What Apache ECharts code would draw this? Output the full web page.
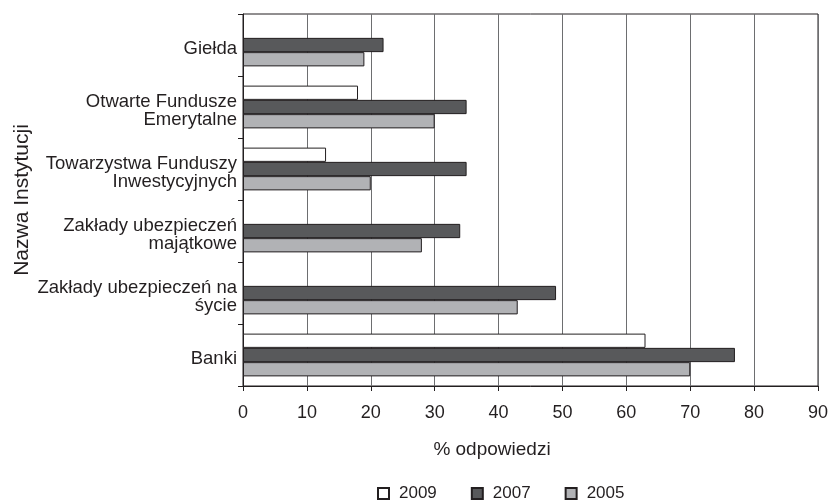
<!DOCTYPE html>
<html>
<head>
<meta charset="utf-8">
<script src="https://cdn.jsdelivr.net/npm/echarts@6/dist/echarts.min.js"></script>
<style>
html,body{margin:0;padding:0;background:#fff;}
#c{width:830px;height:502px;}
</style>
</head>
<body>
<div id="c"></div>
<script>
const categories = [
  'Giełda',
  'Otwarte Fundusze\nEmerytalne',
  'Towarzystwa Funduszy\nInwestycyjnych',
  'Zakłady ubezpieczeń\nmajątkowe',
  'Zakłady ubezpieczeń na\nśycie',
  'Banki'
];
const seriesNames = ['2009', '2007', '2005'];
const values2009 = [null, 18, 13, null, null, 63];
const values2007 = [22, 35, 35, 34, 49, 77];
const values2005 = [19, 30, 20, 28, 43, 70];
const xTicks = [0, 90, 10];
const xTitle = '% odpowiedzi';
const yTitle = 'Nazwa Instytucji';

const FONT = '"Liberation Sans", Arial, sans-serif';
const TXT = '#231f20';
const fills = ['#ffffff', '#58595b', '#b1b2b5'];
const data = [values2009, values2007, values2005];

const chart = echarts.init(document.getElementById('c'), null, {renderer: 'canvas'});
chart.setOption({
  animation: false,
  backgroundColor: '#fff',
  textStyle: {fontFamily: FONT, color: TXT},
  grid: {left: 243, right: 12, top: 14, bottom: 116, show: true, borderColor: TXT, borderWidth: 1,
         containLabel: false, outerBoundsMode: 'none'},
  legend: {
    data: seriesNames,
    left: 377, top: 485, padding: 0,
    itemWidth: 11, itemHeight: 11, itemGap: 34,
    icon: 'rect',
    textStyle: {fontFamily: FONT, fontSize: 17, color: TXT, padding: [0, 0, 0, 5]}
  },
  xAxis: {
    type: 'value',
    min: xTicks[0], max: xTicks[1], interval: xTicks[2],
    axisLine: {show: true, lineStyle: {color: TXT, width: 1}},
    axisTick: {show: true, length: 5, lineStyle: {color: TXT}},
    axisLabel: {fontFamily: FONT, fontSize: 18, color: TXT, margin: 18},
    splitLine: {show: true, lineStyle: {color: '#6d6e70', width: 1}}
  },
  yAxis: {
    type: 'category',
    inverse: true,
    data: categories,
    name: yTitle,
    nameLocation: 'middle',
    nameGap: 210,
    nameMoveOverlap: false,
    nameTextStyle: {fontFamily: FONT, fontSize: 21, color: TXT},
    axisLine: {show: true, lineStyle: {color: TXT, width: 1}},
    axisTick: {show: true, length: 5, lineStyle: {color: TXT}},
    axisLabel: {
      fontFamily: FONT, fontSize: 18.5, color: TXT, margin: 6, lineHeight: 18, align: 'right',
      formatter: v => '{s| }\n' + v,
      rich: {s: {fontSize: 1, lineHeight: 8}}
    },
    splitLine: {show: false}
  },
  graphic: [{
    type: 'text', x: 492, y: 450,
    style: {text: xTitle, font: '19px ' + FONT, fill: TXT, align: 'center', verticalAlign: 'middle'}
  }],
  series: seriesNames.map((n, i) => ({
    name: n,
    type: 'bar',
    data: data[i],
    barGap: '0%',
    barCategoryGap: '31%',
    itemStyle: {color: fills[i], borderColor: TXT, borderWidth: 1}
  }))
});
</script>
</body>
</html>
